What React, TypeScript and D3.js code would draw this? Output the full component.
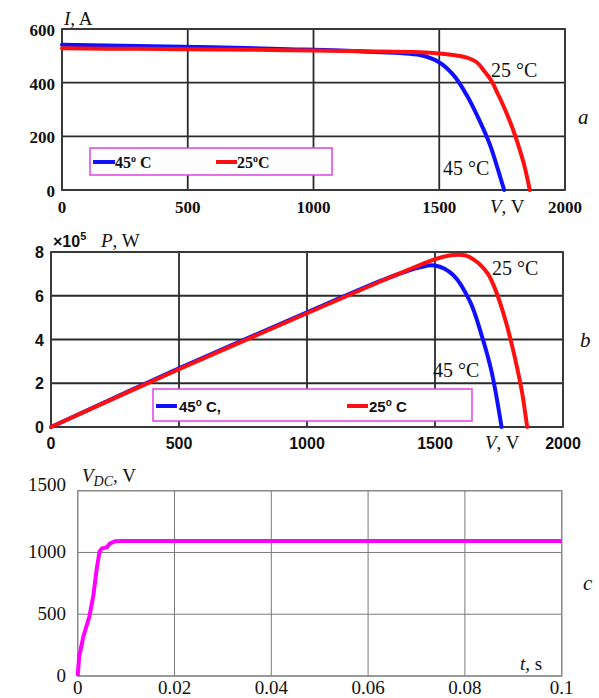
import React from 'react';
import * as d3 from 'd3';

// ---- axis ticks ----
const voltageTicks = [0, 500, 1000, 1500, 2000];
const currentTicks = [0, 200, 400, 600];
const powerTicks = [0, 2, 4, 6, 8];
const timeTicks = [0, 0.02, 0.04, 0.06, 0.08, 0.1];
const timeTickLabels = ['0', '0.02', '0.04', '0.06', '0.08', '0.1'];
const vdcTicks = [0, 500, 1000, 1500];

// ---- panel a: I-V curves ----
const ivVoltage25 = [0, 300, 600, 900, 1200, 1423, 1556, 1610, 1649, 1680, 1708, 1730, 1755, 1780, 1801, 1820, 1840, 1860];
const ivCurrent25 = [528, 526, 524, 521, 517, 513, 503, 493, 476, 442, 406, 364, 314, 258, 205, 150, 85, 0];
const ivVoltage45 = [0, 300, 600, 900, 1200, 1423, 1496, 1556, 1609, 1662, 1702, 1728, 1758];
const ivCurrent45 = [541, 537, 532, 525, 516, 503, 478, 429, 354, 255, 168, 93, 0];

// ---- panel b: P-V curves (x10^5 W) ----
const pvVoltage25 = [0, 500, 1000, 1300, 1450, 1500, 1571, 1620, 1650, 1680, 1708, 1730, 1755, 1780, 1801, 1820, 1840, 1860];
const pvPower25 = [0, 2.64, 5.2, 6.72, 7.45, 7.67, 7.86, 7.84, 7.66, 7.38, 6.98, 6.45, 5.65, 4.68, 3.72, 2.75, 1.59, 0];
const pvVoltage45 = [0, 500, 1000, 1300, 1441, 1500, 1571, 1637, 1682, 1721, 1760];
const pvPower45 = [0, 2.68, 5.24, 6.74, 7.3, 7.38, 6.95, 5.73, 4.2, 2.53, 0];

// ---- panel c: DC link voltage ----
const time = [0, 0.0003, 0.00116, 0.0024, 0.0032, 0.0039, 0.0045, 0.005, 0.006, 0.0067, 0.0077, 0.009, 0.1];
const vdc = [0, 156, 318, 480, 642, 858, 1006, 1033, 1041, 1074, 1090, 1092, 1092];

const SERIF = '"Liberation Serif", "Times New Roman", serif';
const SANS = '"Liberation Sans", Arial, sans-serif';
const BLUE = '#1010ff';
const RED = '#ff1010';
const MAGENTA = '#ff00ff';
const LEG = '#e040e0';

function zip(xs: number[], ys: number[]): [number, number][] {
  return xs.map((x, i) => [x, ys[i]] as [number, number]);
}

function Grid({ x, y, xt, yt, color, width, borderColor, borderWidth }: any) {
  const [x0, x1] = x.range();
  const [y0, y1] = y.range();
  return (
    <g>
      {xt.map((t: number, i: number) => (
        <line key={'vx' + i} x1={x(t)} x2={x(t)} y1={y0} y2={y1} stroke={color} strokeWidth={width} />
      ))}
      {yt.map((t: number, i: number) => (
        <line key={'hy' + i} x1={x0} x2={x1} y1={y(t)} y2={y(t)} stroke={color} strokeWidth={width} />
      ))}
      <rect x={x0} y={y1} width={x1 - x0} height={y0 - y1} fill="none" stroke={borderColor} strokeWidth={borderWidth} />
    </g>
  );
}

export default function App() {
  const smooth = d3.curveCatmullRom.alpha(0.5);
  // Panel a
  const xA = d3.scaleLinear().domain([0, 2000]).range([62, 565]);
  const yA = d3.scaleLinear().domain([0, 600]).range([190, 29]);
  const lineA = d3.line<[number, number]>().x(d => xA(d[0])).y(d => yA(d[1])).curve(smooth);

  // Panel b
  const xB = d3.scaleLinear().domain([0, 2000]).range([51, 563]);
  const yB = d3.scaleLinear().domain([0, 8]).range([427, 252]);
  const lineB = d3.line<[number, number]>().x(d => xB(d[0])).y(d => yB(d[1])).curve(smooth);

  // Panel c
  const xC = d3.scaleLinear().domain([0, 0.1]).range([77.7, 561.7]);
  const yC = d3.scaleLinear().domain([0, 1500]).range([676, 490.7]);
  const lineC = d3.line<[number, number]>().x(d => xC(d[0])).y(d => yC(d[1]));

  return (
    <svg width={599} height={698} style={{ position: 'absolute', left: 0, top: 0, background: '#fff' }}>
      <rect x={0} y={0} width={599} height={698} fill="#fff" />

      {/* ===== Panel a ===== */}
      <Grid x={xA} y={yA} xt={voltageTicks} yt={currentTicks} color="#2a2a2a" width={1.8} borderColor="#3a3a3a" borderWidth={1.8} />
      {currentTicks.map((t, i) => (
        <text key={'ya' + i} x={55} y={yA(t) + 7} textAnchor="end" fontFamily={SERIF} fontWeight="bold" fontSize={17} fill="#111">{t}</text>
      ))}
      {voltageTicks.map((t, i) => (
        <text key={'xa' + i} x={xA(t)} y={213} textAnchor="middle" fontFamily={SERIF} fontWeight="bold" fontSize={17} fill="#111">{t}</text>
      ))}
      <path d={lineA(zip(ivVoltage45, ivCurrent45)) || ''} fill="none" stroke={BLUE} strokeWidth={4} strokeLinecap="round" />
      <path d={lineA(zip(ivVoltage25, ivCurrent25)) || ''} fill="none" stroke={RED} strokeWidth={4} strokeLinecap="round" />
      <rect x={90} y={148} width={242} height={27} fill="#fff" stroke={LEG} strokeWidth={1.5} />
      <line x1={93} x2={115} y1={162} y2={162} stroke={BLUE} strokeWidth={4} />
      <text x={115} y={168} fontFamily={SERIF} fontWeight="bold" fontSize={16} fill="#111">45<tspan dy={-6} fontSize={10}>o</tspan><tspan dy={6}> C</tspan></text>
      <line x1={216} x2={237} y1={162} y2={162} stroke={RED} strokeWidth={4} />
      <text x={237} y={168} fontFamily={SERIF} fontWeight="bold" fontSize={16} fill="#111">25<tspan dy={-6} fontSize={10}>o</tspan><tspan dy={6}>C</tspan></text>
      <text x={64} y={25} fontFamily={SERIF} fontSize={19} fill="#111"><tspan fontStyle="italic">I</tspan>, A</text>
      <text x={490} y={213} fontFamily={SERIF} fontSize={19} fill="#111"><tspan fontStyle="italic">V</tspan>, V</text>
      <text x={491} y={77} fontFamily={SERIF} fontSize={20} fill="#111">25 °C</text>
      <text x={443} y={175} fontFamily={SERIF} fontSize={20} fill="#111">45 °C</text>
      <text x={578} y={124} fontFamily={SERIF} fontStyle="italic" fontSize={21} fill="#111">a</text>

      {/* ===== Panel b ===== */}
      <Grid x={xB} y={yB} xt={voltageTicks} yt={powerTicks} color="#2a2a2a" width={1.8} borderColor="#3a3a3a" borderWidth={1.8} />
      {powerTicks.map((t, i) => (
        <text key={'yb' + i} x={44} y={yB(t) + 6} textAnchor="end" fontFamily={SANS} fontWeight="bold" fontSize={16} fill="#111">{t}</text>
      ))}
      {voltageTicks.map((t, i) => (
        <text key={'xb' + i} x={xB(t)} y={449} textAnchor="middle" fontFamily={SANS} fontWeight="bold" fontSize={16} fill="#111">{t}</text>
      ))}
      <path d={lineB(zip(pvVoltage45, pvPower45)) || ''} fill="none" stroke={BLUE} strokeWidth={4} strokeLinecap="round" />
      <path d={lineB(zip(pvVoltage25, pvPower25)) || ''} fill="none" stroke={RED} strokeWidth={4} strokeLinecap="round" />
      <rect x={153} y={389} width={319} height={32} fill="#fff" stroke={LEG} strokeWidth={1.5} />
      <line x1={156} x2={177} y1={406} y2={406} stroke={BLUE} strokeWidth={4} />
      <text x={179} y={412} fontFamily={SANS} fontWeight="bold" fontSize={15} fill="#111">45<tspan dy={-6} fontSize={10}>o</tspan><tspan dy={6}> C,</tspan></text>
      <line x1={347} x2={368} y1={406} y2={406} stroke={RED} strokeWidth={4} />
      <text x={369} y={412} fontFamily={SANS} fontWeight="bold" fontSize={15} fill="#111">25<tspan dy={-6} fontSize={10}>o</tspan><tspan dy={6}> C</tspan></text>
      <text x={53} y={247} fontFamily={SANS} fontWeight="bold" fontSize={16} fill="#111">×10<tspan dy={-7} fontSize={11}>5</tspan></text>
      <text x={101} y={247} fontFamily={SERIF} fontSize={19} fill="#111"><tspan fontStyle="italic">P</tspan>, W</text>
      <text x={485} y={449} fontFamily={SERIF} fontSize={19} fill="#111"><tspan fontStyle="italic">V</tspan>, V</text>
      <text x={492} y={275} fontFamily={SERIF} fontSize={20} fill="#111">25 °C</text>
      <text x={433} y={377} fontFamily={SERIF} fontSize={20} fill="#111">45 °C</text>
      <text x={580} y={347} fontFamily={SERIF} fontStyle="italic" fontSize={21} fill="#111">b</text>

      {/* ===== Panel c ===== */}
      <Grid x={xC} y={yC} xt={timeTicks} yt={vdcTicks} color="#7a7a7a" width={1} borderColor="#8a8a8a" borderWidth={1.4} />
      {vdcTicks.map((t, i) => (
        <text key={'yc' + i} x={66} y={yC(t) + (t === 1500 ? 0 : 6)} textAnchor="end" fontFamily={SERIF} fontSize={19} fill="#111">{t}</text>
      ))}
      {timeTicks.map((t, i) => (
        <text key={'xc' + i} x={xC(t)} y={694} textAnchor="middle" fontFamily={SERIF} fontSize={19} fill="#111">{timeTickLabels[i]}</text>
      ))}
      <path d={lineC(zip(time, vdc)) || ''} fill="none" stroke={MAGENTA} strokeWidth={4} strokeLinejoin="round" />
      <text x={82} y={482} fontFamily={SERIF} fontSize={19} fill="#111"><tspan fontStyle="italic">V</tspan><tspan fontStyle="italic" fontSize={14} dy={4}>DC</tspan><tspan dy={-4}>, V</tspan></text>
      <text x={520} y={670} fontFamily={SERIF} fontSize={19} fill="#111"><tspan fontStyle="italic">t</tspan>, s</text>
      <text x={583} y={590} fontFamily={SERIF} fontStyle="italic" fontSize={21} fill="#111">c</text>
    </svg>
  );
}
